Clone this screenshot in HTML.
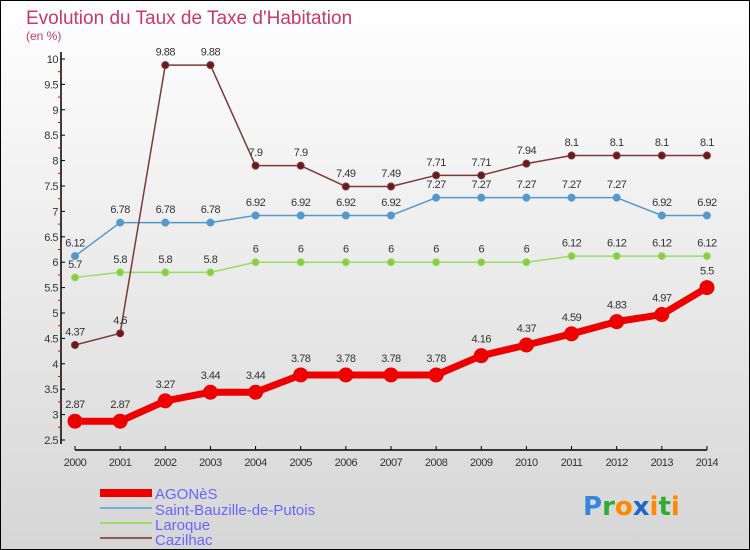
<!DOCTYPE html>
<html><head><meta charset="utf-8"><style>
body{margin:0;width:750px;height:550px;overflow:hidden;font-family:"Liberation Sans",sans-serif}
svg{display:block}
</style></head><body>
<svg id="chart" width="750" height="550" xmlns="http://www.w3.org/2000/svg">
<defs><linearGradient id="bg" x1="0" y1="0" x2="0" y2="1"><stop offset="0" stop-color="#ffffff"/><stop offset="1" stop-color="#d6d6d6"/></linearGradient></defs>
<rect x="0.5" y="0.5" width="749" height="549" fill="url(#bg)" stroke="#000"/>
<text x="26" y="24" font-size="19" fill="#c8386a">Evolution du Taux de Taxe d'Habitation</text>
<text x="26" y="40" font-size="12" fill="#c8386a">(en %)</text>
<g id="axes"></g><g id="series"></g>
<g>
<rect x="100" y="489" width="52" height="8" fill="#ee0000"/>
<text x="155" y="499" font-size="15" fill="#6666ff">AGONèS</text>
<line x1="100" y1="508" x2="152" y2="508" stroke="#7aaed0" stroke-width="2"/>
<text x="155" y="515" font-size="15" fill="#6666ff">Saint-Bauzille-de-Putois</text>
<line x1="100" y1="523" x2="152" y2="523" stroke="#99dd66" stroke-width="2"/>
<text x="155" y="530" font-size="15" fill="#6666ff">Laroque</text>
<line x1="100" y1="538" x2="152" y2="538" stroke="#8b5a5a" stroke-width="2"/>
<text x="155" y="545" font-size="15" fill="#6666ff">Cazilhac</text>
</g>
<text x="583" y="515" font-size="26" font-weight="bold" font-family="DejaVu Sans, sans-serif"><tspan fill="#3388dd">P</tspan><tspan fill="#33aa33">r</tspan><tspan fill="#ff8800">o</tspan><tspan fill="#2266cc">x</tspan><tspan fill="#ff8800">i</tspan><tspan fill="#33aa33">t</tspan><tspan fill="#ff8800">i</tspan></text>
</svg>
<script>
const years=[2000,2001,2002,2003,2004,2005,2006,2007,2008,2009,2010,2011,2012,2013,2014];
const agones=[2.87,2.87,3.27,3.44,3.44,3.78,3.78,3.78,3.78,4.16,4.37,4.59,4.83,4.97,5.5];
const saintBauzille=[6.12,6.78,6.78,6.78,6.92,6.92,6.92,6.92,7.27,7.27,7.27,7.27,7.27,6.92,6.92];
const laroque=[5.7,5.8,5.8,5.8,6,6,6,6,6,6,6,6.12,6.12,6.12,6.12];
const cazilhac=[4.37,4.6,9.88,9.88,7.9,7.9,7.49,7.49,7.71,7.71,7.94,8.1,8.1,8.1,8.1];
const yTicks=[2.5,3,3.5,4,4.5,5,5.5,6,6.5,7,7.5,8,8.5,9,9.5,10];
const NS="http://www.w3.org/2000/svg";
const xS=i=>75+i*45.14;
const yS=v=>440-(v-2.5)*50.8;
function mk(t,a,p){const e=document.createElementNS(NS,t);for(const k in a)e.setAttribute(k,a[k]);p.appendChild(e);return e;}
const ax=document.getElementById('axes');
const yl=mk('line',{x1:61,y1:52,x2:61,y2:444,stroke:'#000','stroke-width':1.5},ax);


const xl=mk('line',{x1:75,y1:450,x2:707,y2:450,stroke:'#000','stroke-width':1.5},ax);


yTicks.forEach(v=>{const y=yS(v);
mk('line',{x1:61,y1:y,x2:65,y2:y,stroke:'#000'},ax);
if(v<10)mk('line',{x1:58,y1:y-12.7,x2:61,y2:y-12.7,stroke:'#e00'},ax);
const t=mk('text',{x:58,y:y+4,'font-size':11,fill:'#333','text-anchor':'end','letter-spacing':'-0.5'},ax);t.textContent=v;

});
years.forEach((yr,i)=>{const x=xS(i);mk('line',{x1:x,y1:446,x2:x,y2:450,stroke:'#000'},ax);
const t=mk('text',{x:x,y:466,'font-size':11,fill:'#333','text-anchor':'middle','letter-spacing':'-0.5'},ax);t.textContent=yr;

});
const sg=document.getElementById('series');
function draw(vals,color,w,r,name,fill){
const g=mk('g',{},sg);


mk('polyline',{points:vals.map((v,i)=>xS(i)+','+yS(v)).join(' '),fill:'none',stroke:color,'stroke-width':w,'stroke-linejoin':'round'},g);
vals.forEach((v,i)=>{const c=mk('circle',{cx:xS(i),cy:yS(v),r:r,fill:fill,stroke:color,'stroke-width':1},g);


const t=mk('text',{x:xS(i),y:yS(v)-(r+6),'font-size':11,fill:'#333','text-anchor':'middle','letter-spacing':'-0.5'},g);t.textContent=v;

});}
draw(laroque,'#99dd66',1.5,3.5,'series-laroque','#88cc44');
draw(saintBauzille,'#5599cc',1.5,3.5,'series-saint-bauzille','#5599cc');
draw(cazilhac,'#7a3a3a',1.5,3.5,'series-cazilhac','#6b1a1a');
draw(agones,'#ee0000',7,7,'series-agones','#ee0000');
</script>
</body></html>
